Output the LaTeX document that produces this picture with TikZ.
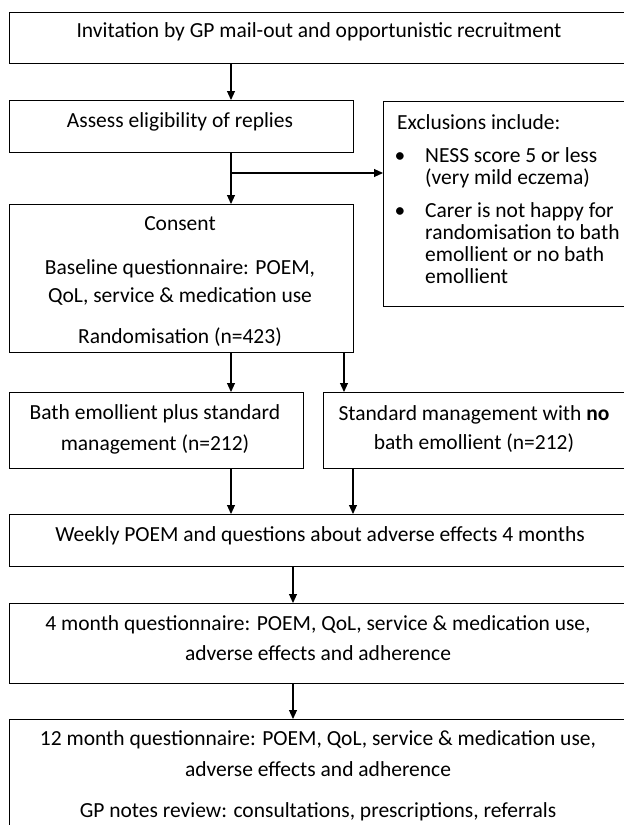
\documentclass[tikz,border=0pt]{standalone}
\usepackage{fontspec}
\setmainfont{Carlito}
\usetikzlibrary{arrows.meta}
\begin{document}
\begin{tikzpicture}[x=1pt,y=-1pt,
 box/.style={draw, line width=1.1pt, rectangle, inner sep=0pt, anchor=north west},
 txt/.style={anchor=base, inner sep=0pt, font=\fontsize{21.5}{22}\selectfont},
 ltxt/.style={anchor=base west, inner sep=0pt, font=\fontsize{21.5}{22}\selectfont},
 arr/.style={line width=1.1pt, -{Triangle[length=9pt,width=8pt]}}]
\useasboundingbox (0,0) rectangle (624,825);
\clip (0,0) rectangle (624,825);
% boxes
\node[box, minimum width=640, minimum height=51] (invite) at (9,12) {};
\node[box, minimum width=344, minimum height=52] (assess) at (9,100) {};
\node[box, minimum width=260, minimum height=205] (excl) at (383,101) {};
\node[box, minimum width=344, minimum height=148] (consent) at (9,204) {};
\node[box, minimum width=294, minimum height=76] (bath) at (9,392) {};
\node[box, minimum width=320, minimum height=76] (std) at (323,392) {};
\node[box, minimum width=640, minimum height=52] (weekly) at (9,514) {};
\node[box, minimum width=640, minimum height=80] (four) at (9,603) {};
\node[box, minimum width=640, minimum height=120] (twelve) at (9,719) {};
% texts
\node[txt] (t1) at (319,37) {Invitation by GP mail-out and opportunistic recruitment};
\node[txt] (t2) at (180,127) {Assess eligibility of replies};
\node[ltxt] (t3) at (397,129) {Exclusions include:};
\node[txt] (b1) at (400,162) {\textbullet};
\node[ltxt] (t4a) at (425,162) {NESS score 5 or less};
\node[ltxt] (t4b) at (425,184) {(very mild eczema)};
\node[txt] (b2) at (400,217) {\textbullet};
\node[ltxt] (t5a) at (425,217) {Carer is not happy for};
\node[ltxt] (t5b) at (425,239) {randomisation to bath};
\node[ltxt] (t5c) at (425,261) {emollient or no bath};
\node[ltxt] (t5d) at (425,283) {emollient};
\node[txt] (t6) at (180,230) {Consent};
\node[txt] (t7a) at (180,274) {Baseline questionnaire: POEM,};
\node[txt] (t7b) at (180,302) {QoL, service \& medication use};
\node[txt] (t8) at (180,343) {Randomisation (n=423)};
\node[txt] (t9a) at (155,419) {Bath emollient plus standard};
\node[txt] (t9b) at (155,450) {management (n=212)};
\node[txt] (t10a) at (474,420) {Standard management with \textbf{no}};
\node[txt] (t10b) at (474,449) {bath emollient (n=212)};
\node[txt] (t11) at (320,541) {Weekly POEM and questions about adverse effects 4 months};
\node[txt] (t12a) at (318,630) {4 month questionnaire: POEM, QoL, service \& medication use,};
\node[txt] (t12b) at (318,660) {adverse effects and adherence};
\node[txt] (t13a) at (318,745) {12 month questionnaire: POEM, QoL, service \& medication use,};
\node[txt] (t13b) at (318,776) {adverse effects and adherence};
\node[txt] (t13c) at (318,817) {GP notes review: consultations, prescriptions, referrals};
% connector coordinates
\coordinate (c231) at (231,0);
\coordinate (c343) at (344,0);
\coordinate (c353) at (353,0);
\coordinate (c293) at (293,0);
\coordinate (cbr) at (231,173);
% connectors
\draw[arr] (c231 |- invite.south) -- (c231 |- assess.north);
\draw[arr] (c231 |- assess.south) -- (c231 |- consent.north);
\draw[arr] (cbr) -- (cbr -| excl.west);
\draw[arr] (c231 |- consent.south) -- (c231 |- bath.north);
\draw[arr] (c343 |- consent.south) -- (c343 |- std.north);
\draw[arr] (c231 |- bath.south) -- (c231 |- weekly.north);
\draw[arr] (c353 |- std.south) -- (c353 |- weekly.north);
\draw[arr] (c293 |- weekly.south) -- (c293 |- four.north);
\draw[arr] (c293 |- four.south) -- (c293 |- twelve.north);
\end{tikzpicture}
\end{document}
